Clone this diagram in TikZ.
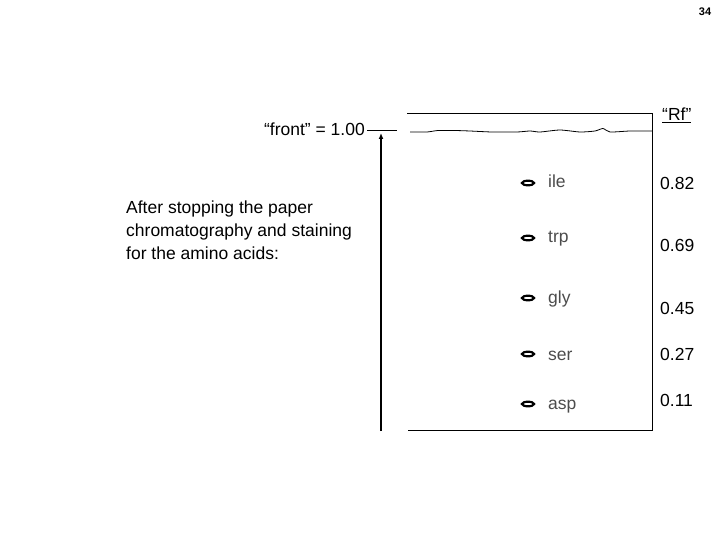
\documentclass[tikz,border=0pt]{standalone}
\usepackage{fontspec}
\setmainfont{Liberation Sans}
\usetikzlibrary{arrows.meta,shapes.geometric}
\begin{document}
\begin{tikzpicture}[x=1pt,y=-1pt,
  txt/.style={font=\fontsize{17.5}{23}\selectfont, inner sep=0pt},
  rf/.style={txt, anchor=west},
  aa/.style={font=\fontsize{17.5}{20}\selectfont, inner sep=0pt, anchor=base west, text=black!70},
  spotline/.style={line width=2.2pt},
  line/.style={line width=0.8pt}]
\useasboundingbox (0,0) rectangle (720,540);
\node[font=\bfseries\fontsize{11}{13}\selectfont, inner sep=0pt] (pg) at (705,12) {34};
% frame
\coordinate (tl) at (407,113);
\coordinate (tr) at (652,113);
\coordinate (bl) at (408,430);
\coordinate (br) at (652,430);
\draw[line] (tl) -- (tr) -- (br) -- (bl);
% front
\node[txt, anchor=base east] (front) at (365,136) {“front” = 1.00};
\coordinate (fs) at (367,130);
\coordinate (fe) at (397,130);
\draw[line] (fs) -- (fe);
\draw[line] plot[smooth, tension=0.4] coordinates {(410,132) (427,132) (438,130.5) (455,130.5) (470,131) (492,132) (517,132) (530,131) (540,132) (560,130) (580,132) (595,131) (603,128.5) (610,132) (630,131) (652,131)};
% arrow
\coordinate (ab) at (381,431);
\coordinate (at) at (381,133);
\draw[line width=1.5pt, -{Latex[length=6pt,width=5pt]}] (ab) -- (at);
% description
\node[txt, anchor=north west, align=left] (desc) at (126,201) {After stopping the paper\\chromatography and staining\\for the amino acids:};
% Rf header
\node[txt, anchor=base west] (rfh) at (662,121) {\underline{“Rf”}};
% spots and labels
\coordinate (s1) at (528,183);
\coordinate (s2) at (528,238);
\coordinate (s3) at (528,298);
\coordinate (s4) at (528,354);
\coordinate (s5) at (528,404);
\foreach \s in {s1,s2,s3,s4,s5}
  \draw[spotline] (\s) ellipse [x radius=6, y radius=2.3];
\node[aa] (l1) at (548,188) {ile};
\node[aa] (l2) at (548,243) {trp};
\node[aa] (l3) at (548,303) {gly};
\node[aa] (l4) at (548,360) {ser};
\node[aa] (l5) at (548,409) {asp};
% Rf values
\node[rf] (r1) at (660,183) {0.82};
\node[rf] (r2) at (660,245) {0.69};
\node[rf] (r3) at (660,308) {0.45};
\node[rf] (r4) at (660,354) {0.27};
\node[rf] (r5) at (660,400) {0.11};
\end{tikzpicture}
\end{document}
